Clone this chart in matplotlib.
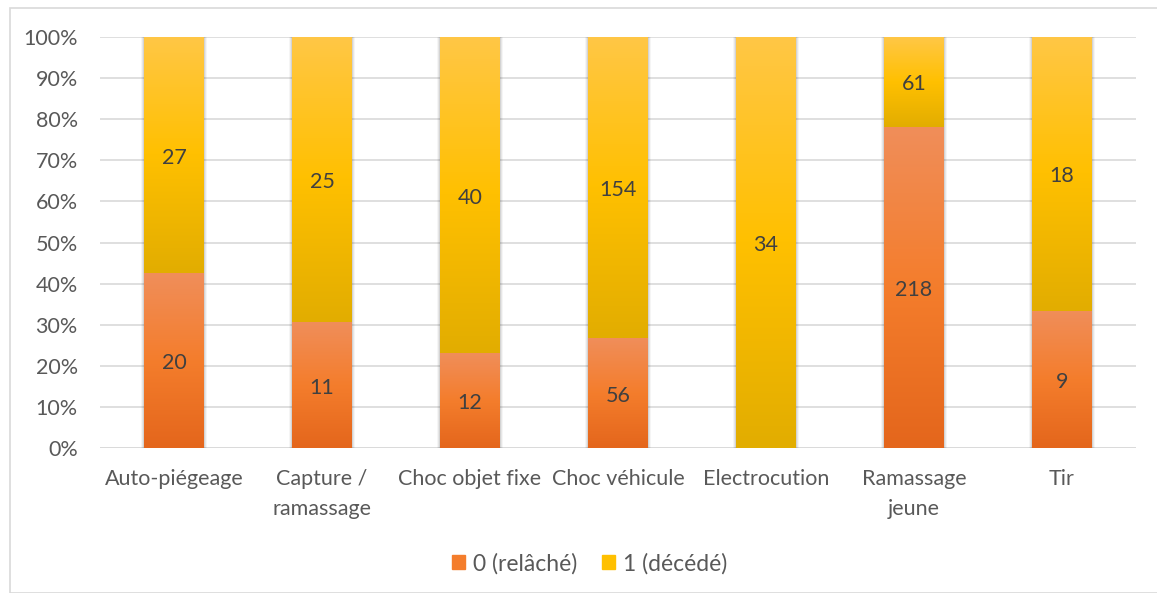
import matplotlib
matplotlib.use("Agg")
import matplotlib.pyplot as plt
import matplotlib.patches as patches
from matplotlib.colors import LinearSegmentedColormap
from matplotlib.ticker import PercentFormatter
import numpy as np

plt.rcParams['font.family'] = ['Lato', 'DejaVu Sans']

categories = ["Auto-piégeage", "Capture /\nramassage", "Choc objet fixe", "Choc véhicule",
              "Electrocution", "Ramassage\njeune", "Tir"]
relache = [20, 11, 12, 56, 0, 218, 9]
decede = [27, 25, 40, 154, 34, 61, 18]
series_names = ["0 (relâché)", "1 (décédé)"]

txt = "#595959"
fs = 15.5
orange_cm = LinearSegmentedColormap.from_list("o", ["#F08E5A", "#F47D2C", "#E4661C"])
yellow_cm = LinearSegmentedColormap.from_list("y", ["#FFC746", "#FFC000", "#E2AD00"])

rel = np.array(relache, dtype=float)
dec = np.array(decede, dtype=float)
tot = rel + dec
p_rel = rel / tot * 100
p_dec = dec / tot * 100

fig = plt.figure(figsize=(11.57, 5.93), dpi=100)
ax = fig.add_axes([0.0864, 0.2445, 0.8954, 0.6931])

x = np.arange(len(categories))
w = 0.405
b1 = ax.bar(x, p_rel, w, color="#F47D2C", zorder=2)
b2 = ax.bar(x, p_dec, w, bottom=p_rel, color="#FFC000", zorder=2)

# soft shadow around each full column
for xi in x:
    for k, a in ((0.02, 0.04), (0.012, 0.06), (0.006, 0.08)):
        ax.add_patch(patches.Rectangle((xi - w / 2 - k, -0.6), w + 2 * k, 100.6,
                                       color="black", alpha=a, lw=0, zorder=1.5))

grad = np.linspace(0, 1, 256).reshape(-1, 1)
for bars, cm in ((b1, orange_cm), (b2, yellow_cm)):
    for r in bars:
        if r.get_height() <= 0:
            continue
        x0, y0 = r.get_x(), r.get_y()
        x1, y1 = x0 + r.get_width(), y0 + r.get_height()
        ax.imshow(grad, cmap=cm, extent=(x0, x1, y0, y1), aspect="auto", zorder=2.5,
                  interpolation="bilinear")

for i in range(len(categories)):
    if relache[i] > 0:
        ax.text(x[i], p_rel[i] / 2 - 0.6, str(relache[i]), ha="center", va="center",
                fontsize=fs, color="#404040", zorder=4)
    if decede[i] > 0:
        ax.text(x[i], p_rel[i] + p_dec[i] / 2 - 0.6, str(decede[i]), ha="center", va="center",
                fontsize=fs, color="#404040", zorder=4)

ax.set_xlim(-0.5, len(categories) - 0.5)
ax.set_ylim(0, 100)
ax.set_yticks(np.arange(0, 101, 10))
ax.yaxis.set_major_formatter(PercentFormatter(decimals=0))
ax.set_xticks(x)
ax.set_xticklabels(categories, fontsize=fs, color=txt, linespacing=1.62)
ax.tick_params(axis="y", labelsize=fs, labelcolor=txt, length=0, pad=16)
ax.tick_params(axis="x", length=0, pad=15)
ax.grid(axis="y", color="#D9D9D9", lw=1.2, zorder=0)
ax.set_axisbelow(True)
for s in ax.spines.values():
    s.set_visible(False)
ax.axhline(0, color="#D9D9D9", lw=1.2, zorder=1)

handles = [patches.Patch(color="#F47D2C"), patches.Patch(color="#FFC000")]
fig.legend(handles, series_names, loc="center", bbox_to_anchor=(0.5095, 0.05), ncol=2,
           frameon=False, fontsize=16.5, labelcolor=txt, handlelength=0.55, handleheight=0.55,
           handletextpad=0.35, columnspacing=1.1)

fig.add_artist(patches.Rectangle((10 / 1157, 0.0), 1.0, 1 - 8 / 593, transform=fig.transFigure,
                                 fill=False, ec="#D9D9D9", lw=1.2))

fig.savefig("out.png", dpi=100)
